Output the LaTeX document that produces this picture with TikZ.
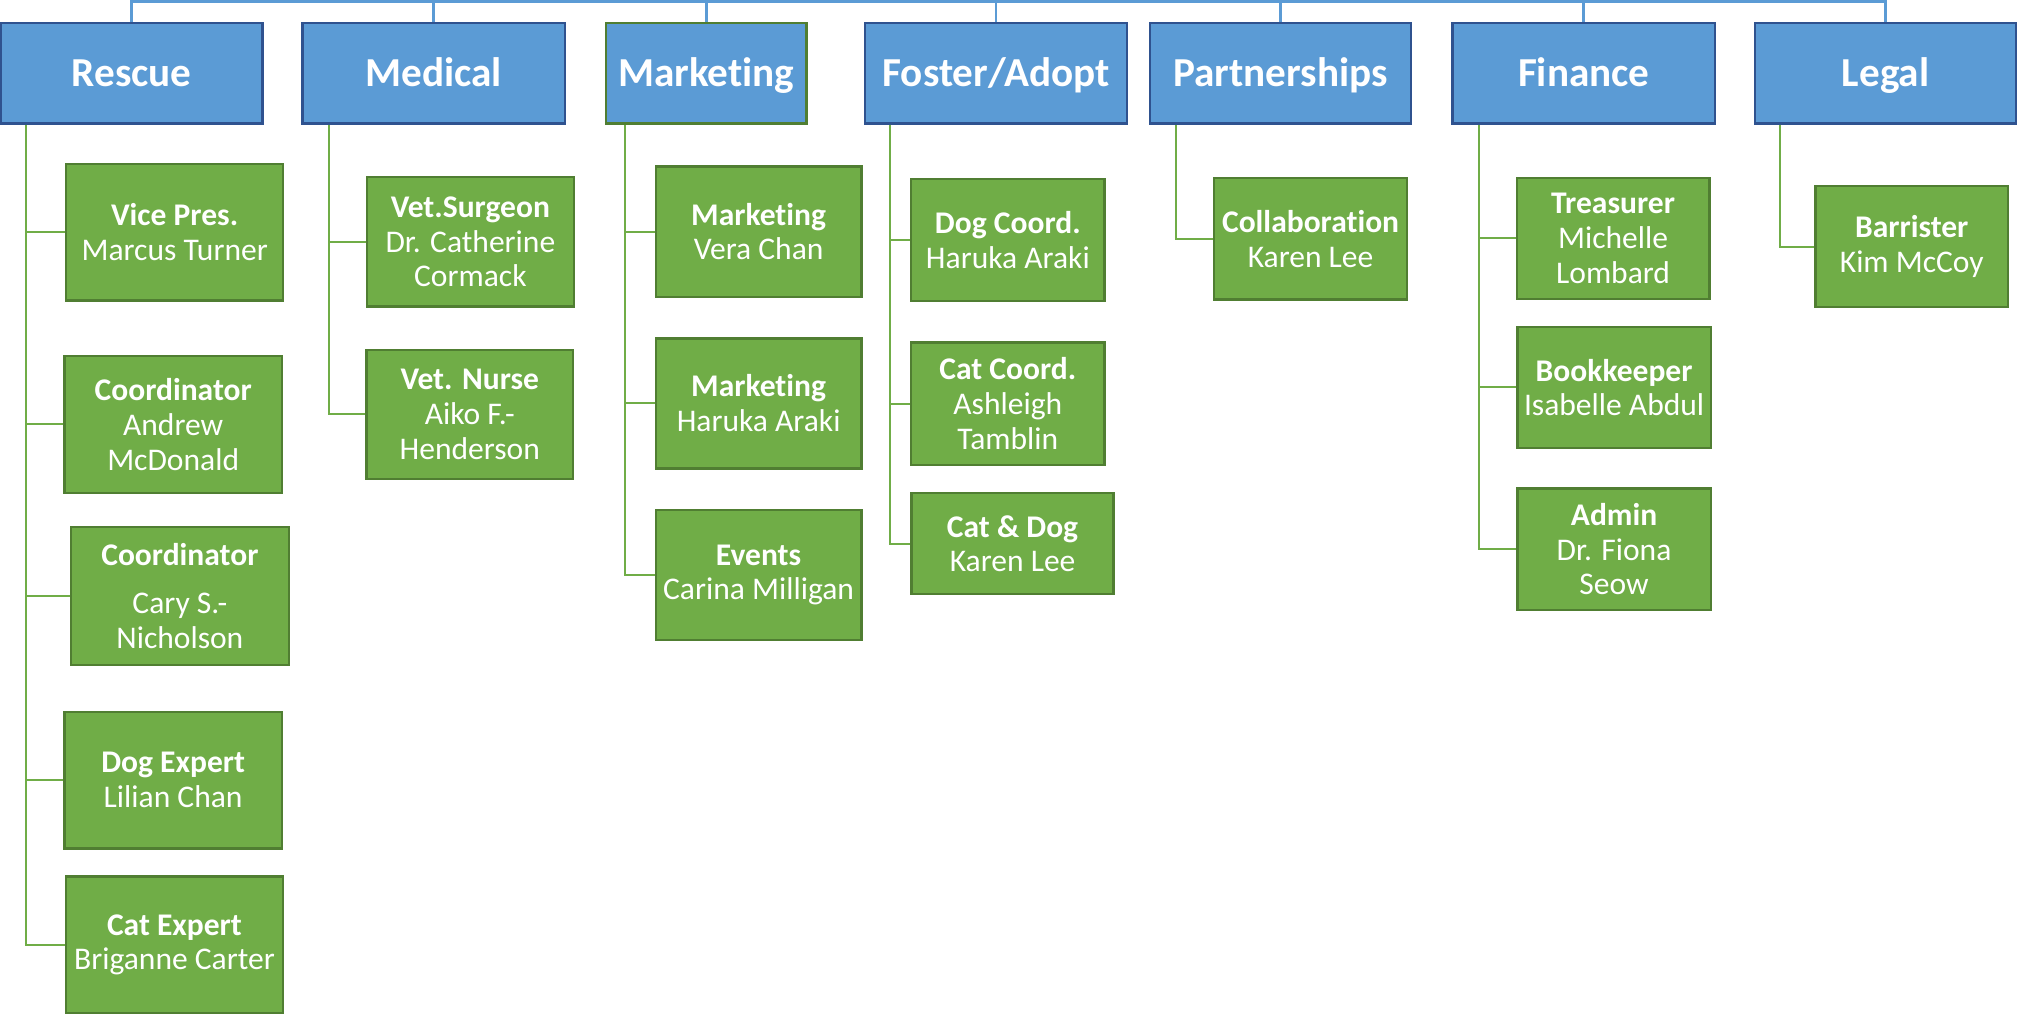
\documentclass[tikz,border=0pt]{standalone}
\usepackage{fontspec}
\setmainfont{Carlito}[Ligatures=NoCommon]
\definecolor{hfill}{HTML}{5B9BD5}
\definecolor{hdraw}{HTML}{2F528F}
\definecolor{cfill}{HTML}{70AD47}
\definecolor{cdraw}{HTML}{507E32}
\begin{document}
\begin{tikzpicture}[x=1pt,y=-1pt,
  head/.style={draw=hdraw,fill=hfill,line width=1.8pt,text=white,inner sep=0pt,
    minimum height=78pt,text height=20.6pt,text depth=0pt,
    font=\fontsize{32}{38}\selectfont\bfseries},
  cbox/.style={draw=cdraw,fill=cfill,line width=1.8pt,text=white,inner sep=0pt,
    align=center,font=\fontsize{24.5}{27}\selectfont},
  gline/.style={draw=cfill,line width=1.6pt},
  bline/.style={draw=hfill,line width=2.2pt}]
\useasboundingbox (0,0) rectangle (1568,788.3);
\newcommand{\cb}[6]{\node[cbox,minimum width={(#3-#2)*1pt},minimum height={(#5-#4)*1pt}] (#1) at ({(#2+#3)/2},{(#4+#5)/2}) {#6};}
% headers
\node[head,minimum width=203.3pt] (Rescue) at (102.3,57) {Rescue};
\node[head,minimum width=203.6pt] (Medical) at (336.8,57) {Medical};
\node[head,minimum width=155.8pt,draw=cdraw] (Marketing) at (548.5,57) {Marketing};
\node[head,minimum width=203pt] (Foster) at (773.5,57) {Foster/Adopt};
\node[head,minimum width=203pt] (Partnerships) at (994.5,57) {Partnerships};
\node[head,minimum width=203.7pt] (Finance) at (1230,57) {Finance};
\node[head,minimum width=202.8pt] (Legal) at (1464.4,57) {Legal};
% top connector
\coordinate (tl) at (783,1.3);
\coordinate (tlup) at (783,-2);
\draw[bline] (Rescue.north) |- (tl) -| (Legal.north);
\draw[bline] (tl) -- (tlup);
\foreach \h in {Medical,Marketing,Foster,Partnerships,Finance}
  \draw[bline] (\h.north) -- (\h.north |- tl);
% Rescue children
\cb{r1}{51.3}{220}{127.4}{233.5}{\textbf{Vice Pres.}\\Marcus Turner}
\cb{r2}{50}{219}{276.6}{382.7}{\textbf{Coordinator}\\Andrew\\McDonald}
\cb{r3}{55}{224.4}{409.5}{516.3}{\textbf{Coordinator}\\[10pt]Cary S.-\\Nicholson}
\cb{r4}{50}{219}{552.9}{659}{\textbf{Dog Expert}\\Lilian Chan}
\cb{r5}{51}{220}{680.7}{786.8}{\textbf{Cat Expert}\\Briganne Carter}
% Medical children
\cb{m1}{285}{445.6}{137.7}{238}{\textbf{Vet.Surgeon}\\Dr. Catherine\\Cormack}
\cb{m2}{284.7}{445}{271.6}{371.9}{\textbf{Vet. Nurse}\\Aiko F.-\\Henderson}
% Marketing children
\cb{k1}{509.3}{669}{129.4}{230.4}{\textbf{Marketing}\\Vera Chan}
\cb{k2}{509.3}{669}{262.8}{363.8}{\textbf{Marketing}\\Haruka Araki}
\cb{k3}{509.3}{669}{396}{497}{\textbf{Events}\\Carina Milligan}
% Foster children
\cb{f1}{707.7}{857.7}{139}{234}{\textbf{Dog Coord.}\\Haruka Araki}
\cb{f2}{707.7}{857.7}{266}{361}{\textbf{Cat Coord.}\\Ashleigh\\Tamblin}
\cb{f3}{708}{864.8}{383}{461.5}{\textbf{Cat \& Dog}\\Karen Lee}
% Partnerships
\cb{p1}{942.7}{1092.9}{138.4}{232.5}{\textbf{Collaboration}\\Karen Lee}
% Finance
\cb{n1}{1178}{1327.5}{138}{232}{\textbf{Treasurer}\\Michelle\\Lombard}
\cb{n2}{1178.5}{1328.6}{253.9}{347.9}{\textbf{Bookkeeper}\\Isabelle Abdul}
\cb{n3}{1178.5}{1328.6}{379.4}{473.5}{\textbf{Admin}\\Dr. Fiona\\Seow}
% Legal
\cb{l1}{1410}{1559.4}{144.7}{238.6}{\textbf{Barrister}\\Kim McCoy}
% column connectors
\coordinate (rl) at ([xshift=20.8pt]Rescue.south west);
\coordinate (ml) at ([xshift=21.5pt]Medical.south west);
\coordinate (kl) at ([xshift=15.9pt]Marketing.south west);
\coordinate (fl) at ([xshift=20pt]Foster.south west);
\coordinate (pl) at ([xshift=21pt]Partnerships.south west);
\coordinate (nl) at ([xshift=21pt]Finance.south west);
\coordinate (ll) at ([xshift=20pt]Legal.south west);
\foreach \c in {r1,r2,r3,r4,r5} \draw[gline] (rl) |- (\c.west);
\foreach \c in {m1,m2} \draw[gline] (ml) |- (\c.west);
\foreach \c in {k1,k2,k3} \draw[gline] (kl) |- (\c.west);
\foreach \c in {f1,f2,f3} \draw[gline] (fl) |- (\c.west);
\draw[gline] (pl) |- (p1.west);
\foreach \c in {n1,n2,n3} \draw[gline] (nl) |- (\c.west);
\draw[gline] (ll) |- (l1.west);
\end{tikzpicture}
\end{document}
